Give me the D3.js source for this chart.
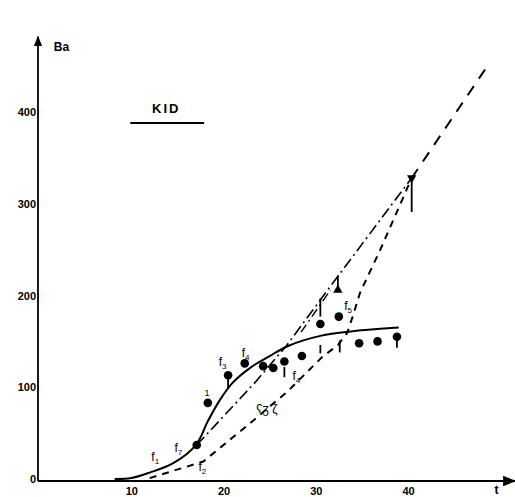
<!DOCTYPE html>
<html>
<head>
<meta charset="utf-8">
<script src="https://cdn.jsdelivr.net/npm/d3@7"></script>
<style>
  body { margin: 0; background: #fff; }
  text { font-family: "Liberation Sans", "DejaVu Sans", sans-serif; font-weight: bold; fill: #000; }
</style>
</head>
<body>
<div id="chart"></div>
<script>
'use strict'

// axis ticks
let xTicks = [10, 20, 30, 40]
let yTicks = [0, 100, 200, 300, 400]

// measured points (t, Ba)
let dotT = [17.1, 18.3, 20.5, 22.3, 24.3, 25.4, 26.6, 28.5, 30.5, 32.5, 34.7, 36.7, 38.8]
let dotBa = [37, 83, 113, 126, 123, 121, 128, 134, 169, 177, 148, 150, 155]

// triangle points
let triT = [32.4, 40.4]
let triBa = [206, 328]

// error bars: t, low, high
let errT = [20.5, 26.6, 30.5, 30.5, 32.6, 38.8, 32.4, 40.4]
let errLo = [99, 111, 177, 137, 138, 143, 206, 291]
let errHi = [113, 122, 197, 146, 151, 155, 222, 328]

// solid model curve
let solidT = [8.2, 10, 12, 14.5, 17, 18.3, 19.6, 21, 23, 25, 27, 30.5, 34, 39]
let solidBa = [0, 1, 7, 17, 37, 63, 86, 105, 122, 134, 145, 156, 161, 165]

// dash-dot line
let dashDotT = [17.1, 23.4, 26.8, 32.4, 40.4]
let dashDotBa = [37, 105, 145, 221, 328]
let dashDot2T = [28.4, 31.6]
let dashDot2Ba = [160, 206]

// dashed line
let dashT = [12, 17.8, 22.9, 26.9, 28.5, 30.7, 32.4, 33.4, 34, 34.8, 37, 40.4]
let dashBa = [1, 19, 61, 95, 111, 133, 146, 159, 177, 203, 250, 328]

// dashed extension
let extT = [40.4, 48.8]
let extBa = [328, 453]

// annotations: main letter, subscript
let noteMain = ["f", "f", "f", "1", "f", "f", "ʕʒ ζ", "f", "f"]
let noteSub = ["1", "7", "2", "", "3", "4", "", "4", "5"]
let noteT = [12.6, 15.1, 17.7, 18.2, 19.9, 22.4, 24.7, 27.9, 33.5]
let noteBa = [24, 34, 13, 94, 128, 138, 76, 112, 189]

let width = 515
let height = 497

let svg = d3.select("#chart").append("svg")
  .attr("width", width)
  .attr("height", height)

let x = d3.scaleLinear().domain([0, 40]).range([39, 408])
let y = d3.scaleLinear().domain([0, 400]).range([479, 112])

function zip(ts, bs) {
  return ts.map((t, i) => [t, bs[i]])
}

// arrowheads
let defs = svg.append("defs")
defs.append("marker")
  .attr("id", "arrow")
  .attr("viewBox", "0 0 10 10")
  .attr("refX", 9).attr("refY", 5)
  .attr("markerWidth", 6).attr("markerHeight", 6)
  .attr("orient", "auto")
  .append("path")
  .attr("d", "M0,1 L10,5 L0,9 Z")
  .attr("fill", "#000")

// axes lines
svg.append("line")
  .attr("x1", x(0) - 1).attr("y1", y(0) + 2)
  .attr("x2", x(51.6)).attr("y2", y(0) + 2)
  .attr("stroke", "#000").attr("stroke-width", 2.2)
  .attr("marker-end", "url(#arrow)")

svg.append("line")
  .attr("x1", x(0) - 1).attr("y1", y(0) + 2)
  .attr("x2", x(0) - 1).attr("y2", y(482))
  .attr("stroke", "#000").attr("stroke-width", 1.8)
  .attr("marker-end", "url(#arrow)")

let xAxis = svg.append("g")
  .attr("transform", "translate(0," + (y(0) + 2) + ")")
  .call(d3.axisBottom(x).tickValues(xTicks).tickSize(0).tickPadding(6))
xAxis.select(".domain").remove()
xAxis.selectAll("text").style("font-size", "11px").style("font-family", "Liberation Sans")
  .style("font-weight", "bold")

let yAxis = svg.append("g")
  .attr("transform", "translate(" + (x(0) - 1) + ",0)")
  .call(d3.axisLeft(y).tickValues(yTicks).tickSize(0).tickPadding(2))
yAxis.select(".domain").remove()
yAxis.selectAll("text").style("font-size", "11px").style("font-family", "Liberation Sans")
  .style("font-weight", "bold")

// axis titles
svg.append("text")
  .attr("x", x(1.6)).attr("y", y(471))
  .attr("dy", "0.35em")
  .style("font-size", "12px")
  .text("Ba")

svg.append("text")
  .attr("x", x(49.6)).attr("y", y(-12))
  .attr("dy", "0.3em")
  .attr("text-anchor", "middle")
  .style("font-size", "12px")
  .text("t")

// title
svg.append("text")
  .attr("x", x(13.8)).attr("y", y(404))
  .attr("dy", "0.35em")
  .attr("text-anchor", "middle")
  .style("font-size", "13px")
  .style("letter-spacing", "2px")
  .text("KID")

svg.append("line")
  .attr("x1", x(9.9)).attr("x2", x(17.9))
  .attr("y1", y(388)).attr("y2", y(388))
  .attr("stroke", "#000").attr("stroke-width", 2)

// curves
let line = d3.line()
  .x(d => x(d[0]))
  .y(d => y(d[1]))

svg.append("path")
  .datum(zip(solidT, solidBa))
  .attr("d", line.curve(d3.curveCatmullRom))
  .attr("fill", "none").attr("stroke", "#000").attr("stroke-width", 2)

line.curve(d3.curveLinear)

svg.append("path")
  .datum(zip(dashDotT, dashDotBa))
  .attr("d", line)
  .attr("fill", "none").attr("stroke", "#000").attr("stroke-width", 1.6)
  .attr("stroke-dasharray", "11,4,2,4")

svg.append("path")
  .datum(zip(dashDot2T, dashDot2Ba))
  .attr("d", line)
  .attr("fill", "none").attr("stroke", "#000").attr("stroke-width", 1.4)
  .attr("stroke-dasharray", "9,4,2,4")

svg.append("path")
  .datum(zip(dashT, dashBa))
  .attr("d", line)
  .attr("fill", "none").attr("stroke", "#000").attr("stroke-width", 2)
  .attr("stroke-dasharray", "7,6")

svg.append("path")
  .datum(zip(extT, extBa))
  .attr("d", line)
  .attr("fill", "none").attr("stroke", "#000").attr("stroke-width", 2)
  .attr("stroke-dasharray", "11,9")

// error bars
svg.selectAll(".err")
  .data(errT)
  .enter()
  .append("line")
  .attr("class", "err")
  .attr("x1", d => x(d)).attr("x2", d => x(d))
  .attr("y1", (d, i) => y(errLo[i]))
  .attr("y2", (d, i) => y(errHi[i]))
  .attr("stroke", "#000").attr("stroke-width", 1.8)

// dots
svg.selectAll(".dot")
  .data(dotT)
  .enter()
  .append("circle")
  .attr("class", "dot")
  .attr("cx", d => x(d))
  .attr("cy", (d, i) => y(dotBa[i]))
  .attr("r", 4.3)
  .attr("fill", "#000")

// triangles
svg.selectAll(".tri")
  .data(triT)
  .enter()
  .append("path")
  .attr("class", "tri")
  .attr("d", d3.symbol().type(d3.symbolTriangle).size(38))
  .attr("transform", (d, i) => "translate(" + x(d) + "," + y(triBa[i]) + ")" + (i == 1 ? "rotate(180)" : ""))
  .attr("fill", "#000")

// annotations
let notes = svg.selectAll(".note")
  .data(noteMain)
  .enter()
  .append("text")
  .attr("class", "note")
  .attr("x", (d, i) => x(noteT[i]))
  .attr("y", (d, i) => y(noteBa[i]))
  .attr("dy", "0.35em")
  .attr("text-anchor", "middle")
  .style("font-size", (d, i) => i == 3 ? "9px" : "12px")
  .style("font-weight", "normal")

notes.append("tspan").text(d => d)
notes.append("tspan")
  .attr("dy", 3)
  .style("font-size", "8px")
  .text((d, i) => noteSub[i])
</script>
</body>
</html>
